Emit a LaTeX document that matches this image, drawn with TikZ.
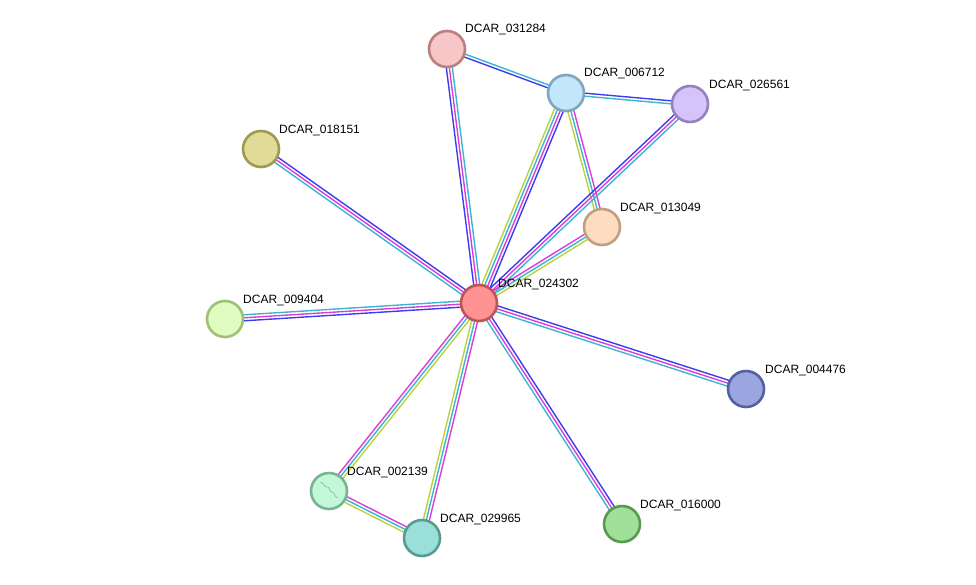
\documentclass[tikz,border=0pt]{standalone}
\usepackage{fontspec}
\setmainfont{Liberation Sans}
\usetikzlibrary{calc,backgrounds}
\definecolor{eblue}{HTML}{3C3CF0}
\definecolor{emag}{HTML}{DC3CDC}
\definecolor{ecyan}{HTML}{3CB4D2}
\definecolor{eyg}{HTML}{BCD23C}
\definecolor{squig}{RGB}{120,190,150}
\tikzset{
  prot/.style={circle, minimum size=36pt, inner sep=0pt, line width=2.6pt},
  lab/.style={anchor=west, inner sep=0pt, font=\fontsize{12}{14}\selectfont},
  eline/.style={line width=1.4pt}
}
\newcommand\sedge[3]{%
  \foreach \cc/\oo in {#3}{%
    \draw[eline,\cc] ($(#1.center)!\oo pt!90:(#2.center)$) -- ($(#2.center)!\oo pt!-90:(#1.center)$);
  }%
}
\begin{document}
\begin{tikzpicture}[x=1pt,y=-1pt]
\useasboundingbox (0,0) rectangle (976,584);
% nodes
\node[prot, fill={rgb,255:red,255;green,146;blue,146}, draw={rgb,255:red,192;green,84;blue,84}] (n024302) at (479,303) {};
\node[prot, fill={rgb,255:red,247;green,198;blue,198}, draw={rgb,255:red,184;green,128;blue,128}] (n031284) at (447,49) {};
\node[prot, fill={rgb,255:red,194;green,230;blue,250}, draw={rgb,255:red,128;green,166;blue,192}] (n006712) at (566,93) {};
\node[prot, fill={rgb,255:red,212;green,196;blue,250}, draw={rgb,255:red,150;green,128;blue,192}] (n026561) at (690,104) {};
\node[prot, fill={rgb,255:red,224;green,220;blue,152}, draw={rgb,255:red,160;green,154;blue,80}] (n018151) at (261,149) {};
\node[prot, fill={rgb,255:red,253;green,220;blue,192}, draw={rgb,255:red,192;green,160;blue,128}] (n013049) at (602,227) {};
\node[prot, fill={rgb,255:red,224;green,252;blue,192}, draw={rgb,255:red,160;green,192;blue,120}] (n009404) at (225,319) {};
\node[prot, fill={rgb,255:red,155;green,165;blue,224}, draw={rgb,255:red,85;green,96;blue,160}] (n004476) at (746,389) {};
\node[prot, fill={rgb,255:red,194;green,248;blue,216}, draw={rgb,255:red,120;green,180;blue,148}] (n002139) at (329,491) {};
\node[prot, fill={rgb,255:red,152;green,224;blue,216}, draw={rgb,255:red,90;green,154;blue,144}] (n029965) at (422,538) {};
\node[prot, fill={rgb,255:red,160;green,224;blue,152}, draw={rgb,255:red,90;green,154;blue,80}] (n016000) at (622,524) {};
% squiggle in DCAR_002139
\draw[line width=0.6pt, draw=squig] (320,483) .. controls (323,480) and (324,488) .. (327,487) .. controls (330,486) and (329,492) .. (332,492) .. controls (335,492) and (334,497) .. (338,498);
% labels
\node[lab] (l024302) at ($(n024302)+(19,-19)$) {DCAR\_024302};
\node[lab] (l031284) at ($(n031284)+(18,-19)$) {DCAR\_031284};
\node[lab] (l006712) at ($(n006712)+(18,-19)$) {DCAR\_006712};
\node[lab] (l026561) at ($(n026561)+(19,-19)$) {DCAR\_026561};
\node[lab] (l018151) at ($(n018151)+(18,-19)$) {DCAR\_018151};
\node[lab] (l013049) at ($(n013049)+(18,-19)$) {DCAR\_013049};
\node[lab] (l009404) at ($(n009404)+(18,-19)$) {DCAR\_009404};
\node[lab] (l004476) at ($(n004476)+(19,-19)$) {DCAR\_004476};
\node[lab] (l002139) at ($(n002139)+(18,-19)$) {DCAR\_002139};
\node[lab] (l029965) at ($(n029965)+(18,-19)$) {DCAR\_029965};
\node[lab] (l016000) at ($(n016000)+(18,-19)$) {DCAR\_016000};
% edges
\begin{pgfonlayer}{background}
\sedge{n031284}{n024302}{eblue/-3,emag/0,ecyan/3}
\sedge{n031284}{n006712}{ecyan/1.5,eblue/-1.5}
\sedge{n006712}{n026561}{eblue/1.5,ecyan/-1.5}
\sedge{n006712}{n024302}{eyg/-4.5,ecyan/-1.5,emag/1.5,eblue/4.5}
\sedge{n006712}{n013049}{eyg/-3,ecyan/0,emag/3}
\sedge{n026561}{n024302}{eblue/-3,emag/0,ecyan/3}
\sedge{n013049}{n024302}{emag/-3,ecyan/0,eyg/3}
\sedge{n018151}{n024302}{eblue/3,emag/0,ecyan/-3}
\sedge{n009404}{n024302}{ecyan/3,emag/0,eblue/-3}
\sedge{n024302}{n004476}{eblue/3,emag/0,ecyan/-3}
\sedge{n024302}{n016000}{eblue/3,emag/0,ecyan/-3}
\sedge{n024302}{n029965}{emag/3,ecyan/0,eyg/-3}
\sedge{n024302}{n002139}{emag/-3,ecyan/0,eyg/3}
\sedge{n002139}{n029965}{emag/3,ecyan/0,eyg/-3}
\end{pgfonlayer}
\end{tikzpicture}
\end{document}
